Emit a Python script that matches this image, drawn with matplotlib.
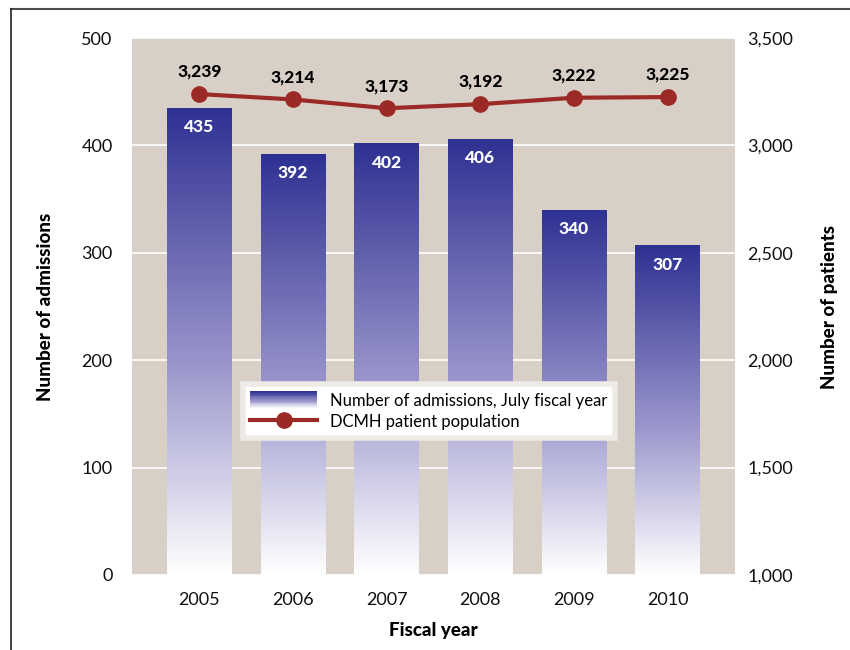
import matplotlib
matplotlib.use('Agg')
import matplotlib.pyplot as plt
import numpy as np
from matplotlib.colors import LinearSegmentedColormap
from matplotlib.lines import Line2D
from matplotlib.patches import Rectangle
from matplotlib.legend_handler import HandlerBase

plt.rcParams['font.family'] = ['Lato', 'DejaVu Sans']

years = ['2005', '2006', '2007', '2008', '2009', '2010']
admissions = [435, 392, 402, 406, 340, 307]
patients = [3239, 3214, 3173, 3192, 3222, 3225]

bg_color = '#d8d0c7'
line_color = '#9b2a27'
grad = LinearSegmentedColormap.from_list(
    'bar_grad', [(0.0, '#ffffff'), (0.45, '#9a96cc'), (1.0, '#2e3192')])


class GradientHandler(HandlerBase):
    """Legend key drawn as a vertical gradient made of thin strips."""

    def create_artists(self, legend, orig_handle, xdescent, ydescent,
                       width, height, fontsize, trans):
        n = 20
        strips = []
        for i in range(n):
            r = Rectangle((-xdescent, -ydescent + height * i / n), width, height / n + 0.3,
                          facecolor=grad(i / (n - 1)), edgecolor='none', transform=trans)
            strips.append(r)
        return strips


fig = plt.figure(figsize=(8.5, 6.5), dpi=100)
ax = fig.add_axes([0.1553, 0.1154, 0.7094, 0.8261])
ax.set_facecolor(bg_color)

x = np.arange(len(years))
bars = ax.bar(x, admissions, width=0.69, color='none', zorder=2)
for b in bars:
    bx, by = b.get_x(), b.get_y()
    bw, bh = b.get_width(), b.get_height()
    img = np.linspace(0, 1, 256).reshape(-1, 1)
    im = ax.imshow(img, cmap=grad, origin='lower', aspect='auto',
                   extent=[bx, bx + bw, by, by + bh], zorder=2)
    im.set_clip_path(b)

for xi, v in zip(x, admissions):
    ax.annotate(str(v), (xi, v), xytext=(0, -14), textcoords='offset points',
                ha='center', va='center', color='white', fontsize=12.5,
                fontweight='black', zorder=4)

ax.set_xlim(-0.72, 5.72)
ax.set_ylim(0, 500)
ax.set_yticks([0, 100, 200, 300, 400, 500])
ax.set_xticks(x)
ax.set_xticklabels(years)
ax.grid(axis='y', color='white', linewidth=1.2, zorder=1)
ax.set_axisbelow(True)
for s in ax.spines.values():
    s.set_visible(False)
ax.tick_params(axis='both', length=0, labelsize=13, colors='#111111')
ax.tick_params(axis='y', pad=14)
ax.tick_params(axis='x', pad=12)
ax.set_xlabel('Fiscal year', fontsize=13.5, fontweight='black', labelpad=10)
ax.set_ylabel('Number of admissions', fontsize=13.5, fontweight='black', labelpad=20)

ax2 = ax.twinx()
ax2.set_ylim(1000, 3500)
ax2.set_yticks([1000, 1500, 2000, 2500, 3000, 3500])
ax2.set_yticklabels(['{:,}'.format(t) for t in [1000, 1500, 2000, 2500, 3000, 3500]])
for s in ax2.spines.values():
    s.set_visible(False)
ax2.tick_params(axis='y', length=0, labelsize=13, colors='#111111', pad=9)
ax2.plot(x, patients, color=line_color, linewidth=3, marker='o', markersize=11, zorder=3)
for xi, v in zip(x, patients):
    ax2.annotate('{:,}'.format(v), (xi, v), xytext=(0, 16), textcoords='offset points',
                 ha='center', va='center', color='black', fontsize=12.5,
                 fontweight='black')
ax2.set_ylabel('Number of patients', fontsize=13.5, fontweight='black', labelpad=20)

handles = [Rectangle((0, 0), 1, 1),
           Line2D([], [], color=line_color, linewidth=3, marker='o', markersize=11)]
labels = ['Number of admissions, July fiscal year', 'DCMH patient population']
leg = ax2.legend(handles, labels, loc='lower left', bbox_to_anchor=(0.184, 0.255),
                 handler_map={Rectangle: GradientHandler()}, fontsize=12,
                 frameon=True, fancybox=False, facecolor='white', edgecolor='#eeeae6',
                 framealpha=1, handlelength=4, handleheight=1.25, labelspacing=0.25,
                 borderpad=0.45, handletextpad=0.8, borderaxespad=0)
leg.get_frame().set_linewidth(4)

# frame lines on the top and left of the page
fig.add_artist(Line2D([11 / 850, 1], [1 - 9 / 650, 1 - 9 / 650], color='#4d4d4d', linewidth=1.5))
fig.add_artist(Line2D([11 / 850, 11 / 850], [0, 1 - 9 / 650], color='#222222', linewidth=1.2))

fig.savefig('out.png', dpi=100)
